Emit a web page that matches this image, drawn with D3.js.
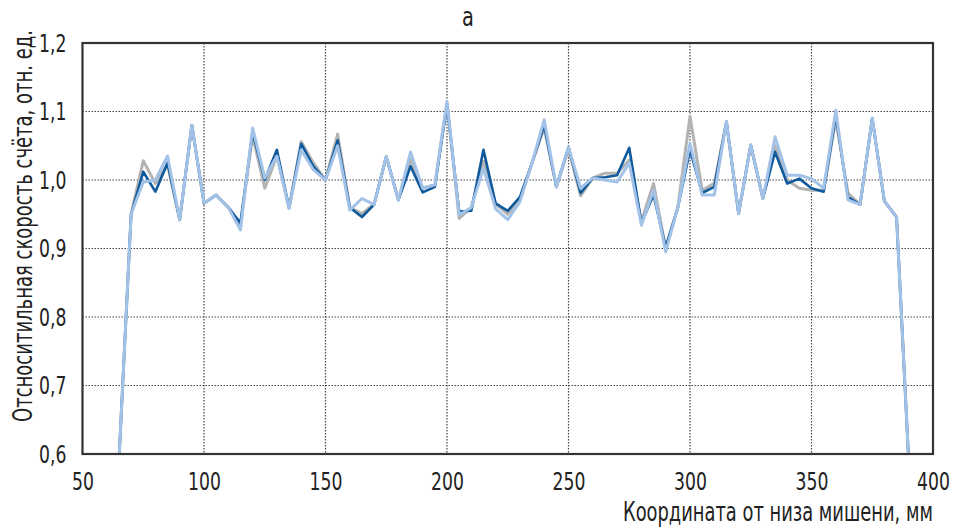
<!DOCTYPE html>
<html>
<head>
<meta charset="utf-8">
<script src="https://cdn.jsdelivr.net/npm/d3@7"></script>
<style>
  body { margin: 0; background: #fff; }
  text { font-family: "DejaVu Sans", sans-serif; fill: #222; }
</style>
</head>
<body>
<div id="chart"></div>
<script>
// coordinates, mm (every 5 mm)
const xs = d3.range(65, 395, 5);

const seriesGray = [0.59, 0.95, 1.028, 0.995, 1.022, 0.942, 1.08, 0.966, 0.978, 0.96, 0.935, 1.065,
  0.988, 1.035, 0.959, 1.056, 1.025, 1.0, 1.067, 0.96, 0.951, 0.965, 1.034, 0.971, 1.03, 0.988, 0.993,
  1.112, 0.944, 0.96, 1.027, 0.965, 0.95, 0.97, 1.025, 1.076, 0.99, 1.045, 0.977, 1.003, 1.01, 1.01,
  1.029, 0.94, 0.995, 0.9, 0.96, 1.093, 0.985, 0.995, 1.085, 0.951, 1.051, 0.973, 1.05, 1.0, 0.988,
  0.985, 0.985, 1.088, 0.981, 0.964, 1.09, 0.969, 0.946, 0.59];

const seriesDark = [0.59, 0.95, 1.012, 0.983, 1.025, 0.942, 1.08, 0.966, 0.978, 0.96, 0.937, 1.07,
  1.0, 1.044, 0.959, 1.053, 1.02, 1.0, 1.058, 0.96, 0.946, 0.964, 1.034, 0.971, 1.02, 0.982, 0.99,
  1.11, 0.954, 0.955, 1.044, 0.966, 0.955, 0.975, 1.025, 1.08, 0.99, 1.048, 0.981, 1.003, 1.004, 1.007,
  1.047, 0.937, 0.978, 0.902, 0.96, 1.044, 0.981, 0.99, 1.085, 0.951, 1.051, 0.973, 1.041, 0.995, 1.002,
  0.988, 0.983, 1.095, 0.975, 0.964, 1.09, 0.969, 0.946, 0.59];

const seriesLight = [0.59, 0.95, 0.997, 1.0, 1.035, 0.942, 1.08, 0.966, 0.978, 0.96, 0.927, 1.076,
  1.003, 1.035, 0.959, 1.044, 1.015, 1.0, 1.05, 0.956, 0.973, 0.964, 1.034, 0.971, 1.041, 0.988, 0.993,
  1.115, 0.949, 0.96, 1.017, 0.958, 0.942, 0.968, 1.025, 1.088, 0.99, 1.048, 0.988, 1.003, 1.0, 0.997,
  1.025, 0.934, 0.985, 0.895, 0.96, 1.054, 0.978, 0.978, 1.085, 0.951, 1.051, 0.973, 1.063, 1.007, 1.007,
  1.002, 0.988, 1.102, 0.971, 0.964, 1.09, 0.969, 0.946, 0.59];

const xTicks = [50, 100, 150, 200, 250, 300, 350, 400];
const yTicks = [0.6, 0.7, 0.8, 0.9, 1.0, 1.1, 1.2];

const W = 954, H = 529;
const margin = { top: 43, right: 21, bottom: 75, left: 82.5 };
const width = W - margin.left - margin.right;
const height = H - margin.top - margin.bottom;
const squeeze = 0.69; // narrow the wide fallback font

const svg = d3.select("#chart").append("svg")
    .attr("width", W)
    .attr("height", H);

const g = svg.append("g")
    .attr("transform", `translate(${margin.left}, ${margin.top})`);

const xScale = d3.scaleLinear().domain([50, 400]).range([0, width]);
const yScale = d3.scaleLinear().domain([0.6, 1.2]).range([height, 0]);

// grid
g.selectAll(".vgrid")
    .data(xTicks.slice(1, -1))
    .enter().append("line")
    .attr("x1", d => xScale(d)).attr("x2", d => xScale(d))
    .attr("y1", 0).attr("y2", height)
    .attr("stroke", "#444").attr("stroke-width", 1.2)
    .attr("stroke-dasharray", "1.5,1.5");

g.selectAll(".hgrid")
    .data(yTicks.slice(1, -1))
    .enter().append("line")
    .attr("x1", 0).attr("x2", width)
    .attr("y1", d => yScale(d)).attr("y2", d => yScale(d))
    .attr("stroke", "#444").attr("stroke-width", 1.2)
    .attr("stroke-dasharray", "1.5,1.5");

// axes (labels only)
const xAxis = d3.axisBottom(xScale).tickValues(xTicks).tickSize(0).tickPadding(18)
    .tickFormat(d3.format("d"));
g.append("g")
    .attr("transform", `translate(0, ${height})`)
    .call(xAxis)
    .call(a => a.select(".domain").remove())
    .selectAll("text")
    .style("font-size", "25px").attr("fill", "#222")
    .attr("transform", `scale(${squeeze},1)`);

const yAxis = d3.axisLeft(yScale).tickValues(yTicks).tickSize(0).tickPadding(16 / squeeze)
    .tickFormat(d => d3.format(".1f")(d).replace(".", ","));
g.append("g")
    .call(yAxis)
    .call(a => a.select(".domain").remove())
    .selectAll("text")
    .style("font-size", "25px").attr("fill", "#222")
    .attr("transform", `scale(${squeeze},1)`);

// lines
g.append("clipPath").attr("id", "clip")
    .append("rect").attr("width", width).attr("height", height);

const line = d3.line()
    .x((d, i) => xScale(xs[i]))
    .y(d => yScale(d));

const series = [
    { values: seriesGray, color: "#b3b3b3", w: 3 },
    { values: seriesDark, color: "#0f5a9c", w: 2.6 },
    { values: seriesLight, color: "#a3c2e8", w: 3 }
];

g.append("g").attr("clip-path", "url(#clip)")
    .selectAll("path")
    .data(series)
    .enter().append("path")
    .attr("d", d => line(d.values))
    .attr("fill", "none")
    .attr("stroke", d => d.color)
    .attr("stroke-width", d => d.w)
    .attr("stroke-linejoin", "round");

// frame
g.append("rect")
    .attr("width", width).attr("height", height)
    .attr("fill", "none").attr("stroke", "#333").attr("stroke-width", 2.2);

// titles
svg.append("text")
    .attr("transform", `translate(468, 26) scale(0.72,1)`)
    .attr("text-anchor", "middle")
    .style("font-size", "27px")
    .text("а");

// squeeze a label to a given length so it looks like the condensed original
function fitLabel(sel, target, place) {
    const len = sel.node().getComputedTextLength();
    sel.attr("transform", `${place} scale(${target / len},1)`);
}

const xLabel = svg.append("text")
    .style("font-size", "26px")
    .text("Координата от низа мишени, мм");
fitLabel(xLabel, 310, "translate(623, 521)");

const yLabel = svg.append("text")
    .style("font-size", "26px")
    .text("Отсноситильная скорость счёта, отн. ед.");
fitLabel(yLabel, 392, "translate(32, 422) rotate(-90)");
</script>
</body>
</html>
